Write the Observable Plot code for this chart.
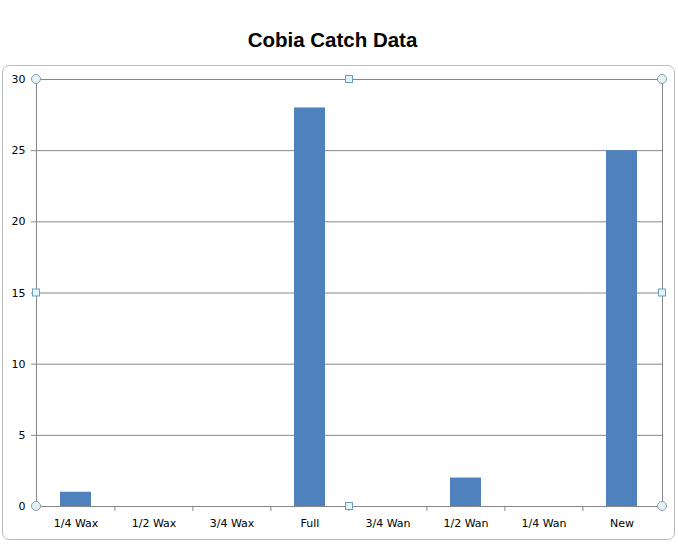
<!DOCTYPE html>
<html>
<head>
<meta charset="utf-8">
<script src="https://cdn.jsdelivr.net/npm/d3@7"></script>
<script src="https://cdn.jsdelivr.net/npm/@observablehq/plot@0.6"></script>
<style>
  html, body { margin: 0; padding: 0; background: #fff; }
  #wrap { position: relative; width: 678px; height: 545px; overflow: hidden; }
  #title { position: absolute; left: 0; top: 0; width: 665px; height: 65px; text-align: center;
           font-family: "Liberation Sans", Arial, sans-serif; font-weight: bold; font-size: 20.5px;
           line-height: 1; }
  #title span { position: absolute; left: 0; right: 0; top: 30px; }
  #chart { position: absolute; left: 0; top: 65px; }
  #border { position: absolute; left: 2px; top: 65px; width: 671px; height: 473px;
            border: 1px solid #bcbcbc; border-radius: 7px; pointer-events: none; }
</style>
</head>
<body>
<div id="wrap">
  <div id="title"><span>Cobia Catch Data</span></div>
  <div id="border"></div>
  <div id="chart"></div>
</div>
<script>
const categories = ["1/4 Wax", "1/2 Wax", "3/4 Wax", "Full", "3/4 Wan", "1/2 Wan", "1/4 Wan", "New"];
const catches = [1, 0, 0, 28, 0, 2, 0, 25];
const yTicks = [0, 5, 10, 15, 20, 25, 30];

const data = categories.map((c, i) => ({category: c, value: catches[i]}));

const W = 678, H = 475;
const mL = 36, mR = 16, mT = 14, mB = 34;
const step = (W - mL - mR) / categories.length;
const gray = "#868686";

function handles(index, scales, values, dims) {
  const g = d3.create("svg:g");
  const x0 = dims.marginLeft, x1 = dims.width - dims.marginRight;
  const y0 = dims.marginTop, y1 = dims.height - dims.marginBottom;
  const xm = (x0 + x1) / 2, ym = (y0 + y1) / 2;
  for (const [cx, cy] of [[x0, y0], [x1, y0], [x0, y1], [x1, y1]]) {
    g.append("circle").attr("cx", cx).attr("cy", cy).attr("r", 4.5)
      .attr("fill", "#e4f3f8").attr("stroke", "#8c9ea8").attr("stroke-width", 1);
  }
  for (const [cx, cy] of [[xm, y0], [xm, y1], [x0, ym], [x1, ym]]) {
    g.append("rect").attr("x", cx - 3.5).attr("y", cy - 3.5).attr("width", 7).attr("height", 7)
      .attr("fill", "#dff4fc").attr("stroke", "#6f9cbc").attr("stroke-width", 1);
  }
  return g.node();
}

const plot = Plot.plot({
  width: W,
  height: H,
  marginLeft: mL,
  marginRight: mR,
  marginTop: mT,
  marginBottom: mB,
  style: {fontFamily: "'DejaVu Sans', sans-serif", fontSize: "11px", color: "#000", background: "transparent"},
  x: {domain: categories, paddingInner: 0.6, paddingOuter: 0.3, label: null},
  y: {domain: [0, 30], label: null},
  marks: [
    Plot.gridY(yTicks, {stroke: gray, strokeOpacity: 1}),
    Plot.barY(data, {x: "category", y: "value", fill: "#4F81BD"}),
    Plot.ruleX(categories.slice(1), {x: d => d, y1: 0, y2: 0, insetBottom: -5, dx: -step / 2, stroke: gray}),
    Plot.frame({stroke: gray}),
    Plot.axisY({ticks: yTicks, tickSize: 5, tickPadding: 6, stroke: gray, label: null, fill: "#000"}),
    Plot.axisX({tickSize: 0, tickPadding: 13, label: null, fill: "#000"}),
    handles
  ]
});
document.getElementById("chart").appendChild(plot);
</script>
</body>
</html>
